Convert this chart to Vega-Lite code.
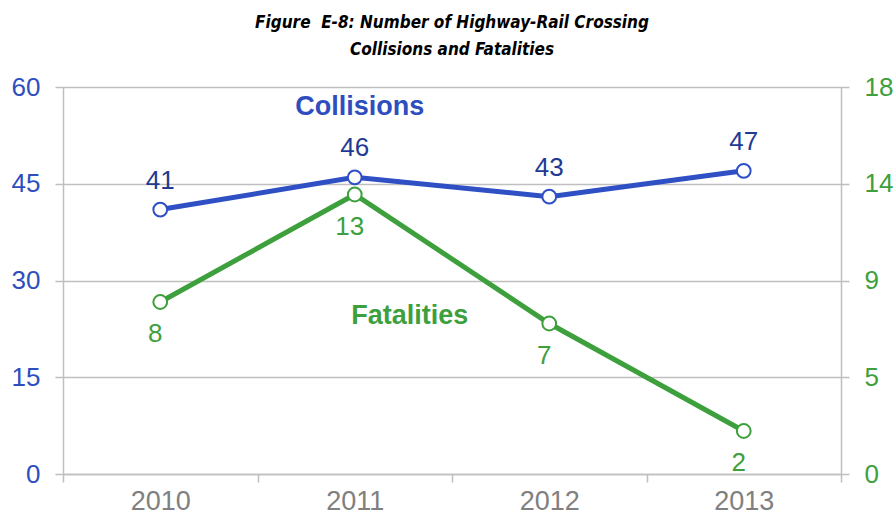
{
  "$schema": "https://vega.github.io/schema/vega-lite/v6.json",
  "width": 778,
  "height": 387,
  "autosize": {"type": "none"},
  "padding": {"left": 63, "top": 87, "right": 54, "bottom": 44},
  "background": "white",
  "title": {
    "text": "Figure\u00a0 E-8: Number of Highway-Rail Crossing",
    "subtitle": "Collisions and Fatalities",
    "anchor": "middle",
    "frame": "group",
    "font": "DejaVu Sans Condensed",
    "subtitleFont": "DejaVu Sans Condensed",
    "fontSize": 17,
    "subtitleFontSize": 17,
    "fontStyle": "italic",
    "subtitleFontStyle": "italic",
    "fontWeight": "bold",
    "subtitleFontWeight": "bold",
    "color": "#000000",
    "subtitleColor": "#000000",
    "subtitlePadding": 10,
    "offset": 15
  },
  "config": {
    "view": {"stroke": null},
    "font": "Liberation Sans"
  },
  "data": {
    "values": [
      {"year": "2010", "Collisions": 41, "Fatalities": 8},
      {"year": "2011", "Collisions": 46, "Fatalities": 13},
      {"year": "2012", "Collisions": 43, "Fatalities": 7},
      {"year": "2013", "Collisions": 47, "Fatalities": 2}
    ]
  },
  "encoding": {
    "x": {
      "field": "year",
      "type": "ordinal",
      "scale": {"type": "band", "paddingInner": 0, "paddingOuter": 0},
      "axis": {
        "title": null,
        "labelAngle": 0,
        "labelFont": "Liberation Sans",
        "labelFontSize": 27,
        "labelColor": "#808080",
        "labelPadding": 6,
        "domainColor": "#BFBFBF",
        "domainWidth": 1.5,
        "tickColor": "#BFBFBF",
        "tickWidth": 1.5,
        "tickSize": 8,
        "tickBand": "extent",
        "grid": false
      }
    }
  },
  "layer": [
    {
      "encoding": {
        "y": {
          "field": "Collisions",
          "type": "quantitative",
          "scale": {"domain": [0, 60], "nice": false},
          "axis": {
            "title": null,
            "orient": "left",
            "values": [0, 15, 30, 45, 60],
            "labelFont": "Liberation Sans",
            "labelFontSize": 26,
            "labelColor": "#2E4EC0",
            "labelPadding": 15,
            "domainColor": "#BFBFBF",
            "domainWidth": 1.5,
            "tickColor": "#BFBFBF",
            "tickWidth": 1.5,
            "tickSize": 8,
            "grid": true,
            "gridColor": "#BFBFBF",
            "gridWidth": 1.5
          }
        }
      },
      "layer": [
        {
          "mark": {"type": "line", "color": "#2F4FC4", "strokeWidth": 5}
        },
        {
          "mark": {"type": "point", "shape": "circle", "filled": true, "fill": "white", "stroke": "#2F4FC4", "strokeWidth": 2, "size": 190, "opacity": 1}
        },
        {
          "mark": {"type": "text", "color": "#1F3A93", "fontSize": 26, "font": "Liberation Sans", "dy": -29, "baseline": "middle"},
          "encoding": {"text": {"field": "Collisions", "type": "quantitative"}}
        },
        {
          "data": {"values": [{"year": "2011", "name": "Collisions", "pos": 56.9}]},
          "mark": {"type": "text", "color": "#2E4EC0", "fontSize": 27, "fontWeight": "bold", "font": "Liberation Sans", "dx": 5, "baseline": "middle"},
          "encoding": {
            "y": {"field": "pos", "type": "quantitative"},
            "text": {"field": "name"}
          }
        }
      ]
    },
    {
      "encoding": {
        "y": {
          "field": "Fatalities",
          "type": "quantitative",
          "scale": {"domain": [0, 18], "nice": false},
          "axis": {
            "title": null,
            "orient": "right",
            "values": [0, 4.5, 9, 13.5, 18],
            "labelExpr": "round(datum.value)",
            "labelFont": "Liberation Sans",
            "labelFontSize": 26,
            "labelColor": "#3DA03D",
            "labelPadding": 15,
            "domainColor": "#BFBFBF",
            "domainWidth": 1.5,
            "tickColor": "#BFBFBF",
            "tickWidth": 1.5,
            "tickSize": 8,
            "grid": false
          }
        }
      },
      "layer": [
        {
          "mark": {"type": "line", "color": "#3DA03D", "strokeWidth": 5}
        },
        {
          "mark": {"type": "point", "shape": "circle", "filled": true, "fill": "white", "stroke": "#3DA03D", "strokeWidth": 2, "size": 190, "opacity": 1}
        },
        {
          "mark": {"type": "text", "color": "#3DA03D", "fontSize": 26, "font": "Liberation Sans", "dy": 32, "dx": -5, "baseline": "middle"},
          "encoding": {"text": {"field": "Fatalities", "type": "quantitative"}}
        },
        {
          "data": {"values": [{"year": "2011", "name": "Fatalities", "pos": 7.35}]},
          "mark": {"type": "text", "color": "#3DA03D", "fontSize": 27, "fontWeight": "bold", "font": "Liberation Sans", "dx": 55, "baseline": "middle"},
          "encoding": {
            "y": {"field": "pos", "type": "quantitative"},
            "text": {"field": "name"}
          }
        }
      ]
    }
  ],
  "resolve": {"scale": {"y": "independent"}}
}
